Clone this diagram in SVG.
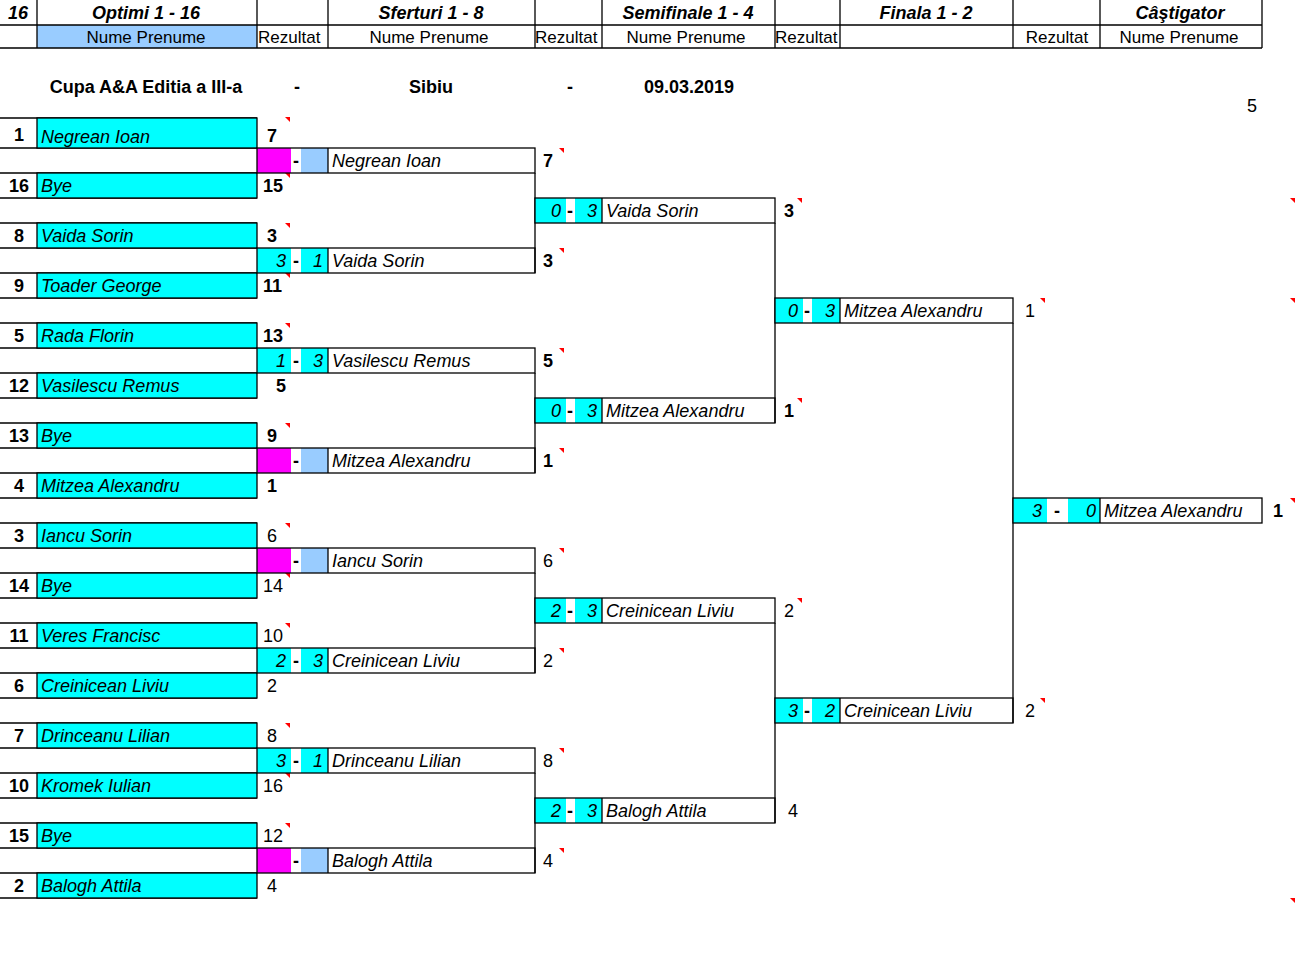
<svg xmlns="http://www.w3.org/2000/svg" width="1296" height="970" viewBox="0 0 1296 970">
<style>
text{font-family:"Liberation Sans",Arial,sans-serif;font-size:18px;fill:#000}
.b{font-weight:bold}.i{font-style:italic}.bi{font-weight:bold;font-style:italic}
.h{font-size:17px}
.c{text-anchor:middle}.r{text-anchor:end}
.ln{stroke:#000;stroke-width:1.3;fill:none}
.cy{fill:#00ffff}.mg{fill:#ff00ff}.lb{fill:#99ccff}
.cyb{fill:#00ffff;stroke:#000;stroke-width:1.3}
.mk{fill:#ff0000}
</style>
<defs><path id="m" d="M0,0 h5 v5 z" class="mk"/></defs>
<rect width="1296" height="970" fill="#fff"/>
<g id="header">
<rect x="37" y="25" width="220" height="23" class="lb"/>
<path class="ln" d="M0,25 H1262 M0,48 H1262 M37,0 V48 M257,0 V48 M328,0 V48 M535,0 V48 M602,0 V48 M775,0 V48 M840,0 V48 M1013,0 V48 M1100,0 V48 M1262,0 V48"/>
<text x="18" y="19" class="bi c">16</text>
<text x="146" y="19" class="bi c">Optimi 1 - 16</text>
<text x="431" y="19" class="bi c">Sferturi 1 - 8</text>
<text x="688" y="19" class="bi c">Semifinale 1 - 4</text>
<text x="926" y="19" class="bi c">Finala 1 - 2</text>
<text x="1180" y="19" class="bi c">Câştigator</text>
<text x="146" y="43" class="h c">Nume Prenume</text>
<text x="258" y="43" class="h">Rezultat</text>
<text x="429" y="43" class="h c">Nume Prenume</text>
<text x="535" y="43" class="h">Rezultat</text>
<text x="686" y="43" class="h c">Nume Prenume</text>
<text x="775" y="43" class="h">Rezultat</text>
<text x="1057" y="43" class="h c">Rezultat</text>
<text x="1179" y="43" class="h c">Nume Prenume</text>
<text x="146" y="93" class="b c">Cupa A&amp;A Editia a III-a</text>
<text x="297" y="93" class="b c">-</text>
<text x="431" y="93" class="b c">Sibiu</text>
<text x="570" y="93" class="b c">-</text>
<text x="689" y="93" class="b c">09.03.2019</text>
<text x="1252" y="112" class="c">5</text>
</g>
<g id="connectors">
<path class="ln" d="M535,173 V273 M535,373 V473 M535,573 V673 M535,773 V873 M775,223 V423 M775,623 V823 M1013,323 V723"/>
</g>
<g id="round1">
<path class="ln" d="M0,148 H257 M0,198 H257 M0,248 H257 M0,298 H257 M0,348 H257 M0,398 H257 M0,448 H257 M0,498 H257 M0,548 H257 M0,598 H257 M0,648 H257 M0,698 H257 M0,748 H257 M0,798 H257 M0,848 H257 M0,898 H257 M0,118 H257 M0,173 H257 M0,223 H257 M0,273 H257 M0,323 H257 M0,373 H257 M0,423 H257 M0,473 H257 M0,523 H257 M0,573 H257 M0,623 H257 M0,673 H257 M0,723 H257 M0,773 H257 M0,823 H257 M0,873 H257"/>
<rect x="37" y="118" width="220" height="30" class="cyb"/>
<rect x="37" y="173" width="220" height="25" class="cyb"/>
<rect x="37" y="223" width="220" height="25" class="cyb"/>
<rect x="37" y="273" width="220" height="25" class="cyb"/>
<rect x="37" y="323" width="220" height="25" class="cyb"/>
<rect x="37" y="373" width="220" height="25" class="cyb"/>
<rect x="37" y="423" width="220" height="25" class="cyb"/>
<rect x="37" y="473" width="220" height="25" class="cyb"/>
<rect x="37" y="523" width="220" height="25" class="cyb"/>
<rect x="37" y="573" width="220" height="25" class="cyb"/>
<rect x="37" y="623" width="220" height="25" class="cyb"/>
<rect x="37" y="673" width="220" height="25" class="cyb"/>
<rect x="37" y="723" width="220" height="25" class="cyb"/>
<rect x="37" y="773" width="220" height="25" class="cyb"/>
<rect x="37" y="823" width="220" height="25" class="cyb"/>
<rect x="37" y="873" width="220" height="25" class="cyb"/>
</g>
<g id="p1"><text x="19" y="141" class="b c">1</text><text x="41" y="143" class="i">Negrean Ioan</text><text x="267" y="142" class="b">7</text><use href="#m" x="285" y="117"/></g>
<g id="p16"><text x="19" y="192" class="b c">16</text><text x="41" y="192" class="i">Bye</text><text x="263" y="192" class="b">15</text><use href="#m" x="285" y="173"/></g>
<g id="p8"><text x="19" y="242" class="b c">8</text><text x="41" y="242" class="i">Vaida Sorin</text><text x="267" y="242" class="b">3</text><use href="#m" x="285" y="223"/></g>
<g id="p9"><text x="19" y="292" class="b c">9</text><text x="41" y="292" class="i">Toader George</text><text x="263" y="292" class="b">11</text><use href="#m" x="285" y="273"/></g>
<g id="p5"><text x="19" y="342" class="b c">5</text><text x="41" y="342" class="i">Rada Florin</text><text x="263" y="342" class="b">13</text><use href="#m" x="285" y="323"/></g>
<g id="p12"><text x="19" y="392" class="b c">12</text><text x="41" y="392" class="i">Vasilescu Remus</text><text x="276" y="392" class="b">5</text></g>
<g id="p13"><text x="19" y="442" class="b c">13</text><text x="41" y="442" class="i">Bye</text><text x="267" y="442" class="b">9</text><use href="#m" x="285" y="423"/></g>
<g id="p4"><text x="19" y="492" class="b c">4</text><text x="41" y="492" class="i">Mitzea Alexandru</text><text x="267" y="492" class="b">1</text></g>
<g id="p3"><text x="19" y="542" class="b c">3</text><text x="41" y="542" class="i">Iancu Sorin</text><text x="267" y="542">6</text><use href="#m" x="285" y="523"/></g>
<g id="p14"><text x="19" y="592" class="b c">14</text><text x="41" y="592" class="i">Bye</text><text x="263" y="592">14</text><use href="#m" x="285" y="573"/></g>
<g id="p11"><text x="19" y="642" class="b c">11</text><text x="41" y="642" class="i">Veres Francisc</text><text x="263" y="642">10</text><use href="#m" x="285" y="623"/></g>
<g id="p6"><text x="19" y="692" class="b c">6</text><text x="41" y="692" class="i">Creinicean Liviu</text><text x="267" y="692">2</text></g>
<g id="p7"><text x="19" y="742" class="b c">7</text><text x="41" y="742" class="i">Drinceanu Lilian</text><text x="267" y="742">8</text><use href="#m" x="285" y="723"/></g>
<g id="p10"><text x="19" y="792" class="b c">10</text><text x="41" y="792" class="i">Kromek Iulian</text><text x="263" y="792">16</text><use href="#m" x="285" y="773"/></g>
<g id="p15"><text x="19" y="842" class="b c">15</text><text x="41" y="842" class="i">Bye</text><text x="263" y="842">12</text><use href="#m" x="285" y="823"/></g>
<g id="p2"><text x="19" y="892" class="b c">2</text><text x="41" y="892" class="i">Balogh Attila</text><text x="267" y="892">4</text></g>

<g id="q1"><rect x="257" y="148" width="34" height="25" class="mg"/><rect x="301" y="148" width="27" height="25" class="lb"/><rect x="257" y="148" width="278" height="25" class="ln"/><path class="ln" d="M328,148V173"/><text x="296" y="167" class="b c">-</text><text x="332" y="167" class="i">Negrean Ioan</text><text x="543" y="167" class="b">7</text><use href="#m" x="559" y="148"/></g>
<g id="q2"><rect x="257" y="248" width="34" height="25" class="cy"/><rect x="301" y="248" width="27" height="25" class="cy"/><rect x="257" y="248" width="278" height="25" class="ln"/><path class="ln" d="M328,248V273"/><text x="286" y="267" class="i r">3</text><text x="296" y="267" class="b c">-</text><text x="323" y="267" class="i r">1</text><text x="332" y="267" class="i">Vaida Sorin</text><text x="543" y="267" class="b">3</text><use href="#m" x="559" y="248"/></g>
<g id="q3"><rect x="257" y="348" width="34" height="25" class="cy"/><rect x="301" y="348" width="27" height="25" class="cy"/><rect x="257" y="348" width="278" height="25" class="ln"/><path class="ln" d="M328,348V373"/><text x="286" y="367" class="i r">1</text><text x="296" y="367" class="b c">-</text><text x="323" y="367" class="i r">3</text><text x="332" y="367" class="i">Vasilescu Remus</text><text x="543" y="367" class="b">5</text><use href="#m" x="559" y="348"/></g>
<g id="q4"><rect x="257" y="448" width="34" height="25" class="mg"/><rect x="301" y="448" width="27" height="25" class="lb"/><rect x="257" y="448" width="278" height="25" class="ln"/><path class="ln" d="M328,448V473"/><text x="296" y="467" class="b c">-</text><text x="332" y="467" class="i">Mitzea Alexandru</text><text x="543" y="467" class="b">1</text><use href="#m" x="559" y="448"/></g>
<g id="q5"><rect x="257" y="548" width="34" height="25" class="mg"/><rect x="301" y="548" width="27" height="25" class="lb"/><rect x="257" y="548" width="278" height="25" class="ln"/><path class="ln" d="M328,548V573"/><text x="296" y="567" class="b c">-</text><text x="332" y="567" class="i">Iancu Sorin</text><text x="543" y="567">6</text><use href="#m" x="559" y="548"/></g>
<g id="q6"><rect x="257" y="648" width="34" height="25" class="cy"/><rect x="301" y="648" width="27" height="25" class="cy"/><rect x="257" y="648" width="278" height="25" class="ln"/><path class="ln" d="M328,648V673"/><text x="286" y="667" class="i r">2</text><text x="296" y="667" class="b c">-</text><text x="323" y="667" class="i r">3</text><text x="332" y="667" class="i">Creinicean Liviu</text><text x="543" y="667">2</text><use href="#m" x="559" y="648"/></g>
<g id="q7"><rect x="257" y="748" width="34" height="25" class="cy"/><rect x="301" y="748" width="27" height="25" class="cy"/><rect x="257" y="748" width="278" height="25" class="ln"/><path class="ln" d="M328,748V773"/><text x="286" y="767" class="i r">3</text><text x="296" y="767" class="b c">-</text><text x="323" y="767" class="i r">1</text><text x="332" y="767" class="i">Drinceanu Lilian</text><text x="543" y="767">8</text><use href="#m" x="559" y="748"/></g>
<g id="q8"><rect x="257" y="848" width="34" height="25" class="mg"/><rect x="301" y="848" width="27" height="25" class="lb"/><rect x="257" y="848" width="278" height="25" class="ln"/><path class="ln" d="M328,848V873"/><text x="296" y="867" class="b c">-</text><text x="332" y="867" class="i">Balogh Attila</text><text x="543" y="867">4</text><use href="#m" x="559" y="848"/></g>

<g id="s1"><rect x="535" y="198" width="31" height="25" class="cy"/><rect x="575" y="198" width="27" height="25" class="cy"/><rect x="535" y="198" width="240" height="25" class="ln"/><path class="ln" d="M602,198V223"/><text x="561" y="217" class="i r">0</text><text x="570" y="217" class="b c">-</text><text x="597" y="217" class="i r">3</text><text x="606" y="217" class="i">Vaida Sorin</text><text x="784" y="217" class="b">3</text><use href="#m" x="797" y="198"/></g>
<g id="s2"><rect x="535" y="398" width="31" height="25" class="cy"/><rect x="575" y="398" width="27" height="25" class="cy"/><rect x="535" y="398" width="240" height="25" class="ln"/><path class="ln" d="M602,398V423"/><text x="561" y="417" class="i r">0</text><text x="570" y="417" class="b c">-</text><text x="597" y="417" class="i r">3</text><text x="606" y="417" class="i">Mitzea Alexandru</text><text x="784" y="417" class="b">1</text><use href="#m" x="797" y="398"/></g>
<g id="s3"><rect x="535" y="598" width="31" height="25" class="cy"/><rect x="575" y="598" width="27" height="25" class="cy"/><rect x="535" y="598" width="240" height="25" class="ln"/><path class="ln" d="M602,598V623"/><text x="561" y="617" class="i r">2</text><text x="570" y="617" class="b c">-</text><text x="597" y="617" class="i r">3</text><text x="606" y="617" class="i">Creinicean Liviu</text><text x="784" y="617">2</text><use href="#m" x="797" y="598"/></g>
<g id="s4"><rect x="535" y="798" width="31" height="25" class="cy"/><rect x="575" y="798" width="27" height="25" class="cy"/><rect x="535" y="798" width="240" height="25" class="ln"/><path class="ln" d="M602,798V823"/><text x="561" y="817" class="i r">2</text><text x="570" y="817" class="b c">-</text><text x="597" y="817" class="i r">3</text><text x="606" y="817" class="i">Balogh Attila</text><text x="788" y="817">4</text></g>

<g id="f1"><rect x="775" y="298" width="28" height="25" class="cy"/><rect x="812" y="298" width="28" height="25" class="cy"/><rect x="775" y="298" width="238" height="25" class="ln"/><path class="ln" d="M840,298V323"/><text x="798" y="317" class="i r">0</text><text x="807" y="317" class="b c">-</text><text x="835" y="317" class="i r">3</text><text x="844" y="317" class="i">Mitzea Alexandru</text><text x="1025" y="317">1</text><use href="#m" x="1040" y="298"/></g>
<g id="f2"><rect x="775" y="698" width="28" height="25" class="cy"/><rect x="812" y="698" width="28" height="25" class="cy"/><rect x="775" y="698" width="238" height="25" class="ln"/><path class="ln" d="M840,698V723"/><text x="798" y="717" class="i r">3</text><text x="807" y="717" class="b c">-</text><text x="835" y="717" class="i r">2</text><text x="844" y="717" class="i">Creinicean Liviu</text><text x="1025" y="717">2</text><use href="#m" x="1040" y="698"/></g>

<g id="winner"><rect x="1013" y="498" width="34" height="25" class="cy"/><rect x="1068" y="498" width="32" height="25" class="cy"/><rect x="1013" y="498" width="249" height="25" class="ln"/><path class="ln" d="M1100,498V523"/><text x="1042" y="517" class="i r">3</text><text x="1057" y="517" class="b c">-</text><text x="1096" y="517" class="i r">0</text><text x="1104" y="517" class="i">Mitzea Alexandru</text><text x="1273" y="517" class="b">1</text><use href="#m" x="1290" y="498"/></g>
<g id="marks"><use href="#m" x="1290" y="198"/><use href="#m" x="1290" y="298"/><use href="#m" x="1290" y="898"/></g>
</svg>
